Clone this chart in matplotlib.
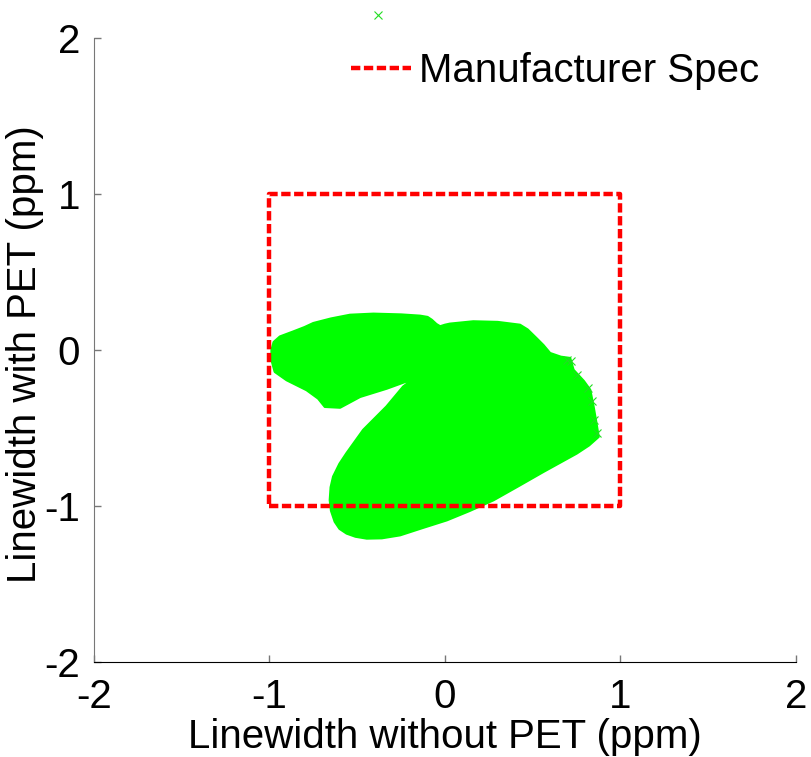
"""Linewidth with and without PET against the manufacturer spec box."""
import matplotlib
matplotlib.use("Agg")
import matplotlib.pyplot as plt

plt.rcParams["font.family"] = ["Liberation Sans", "DejaVu Sans"]
plt.rcParams["axes.unicode_minus"] = False

# Outline of the dense cloud of measured points (ppm)
cloud_x = [-0.987, -0.975, -0.94, -0.864, -0.8, -0.75, -0.65, -0.541, -0.408,
           -0.25, -0.142, -0.1, -0.076, -0.05, -0.028, 0.0, 0.028, 0.161, 0.3,
           0.427, 0.47, 0.52, 0.56, 0.598, 0.66, 0.712, 0.731, 0.79, 0.826,
           0.845, 0.86, 0.874, 0.82, 0.75, 0.56, 0.42, 0.275, 0.14, 0.01,
           -0.13, -0.256, -0.36, -0.446, -0.51, -0.56, -0.6, -0.627, -0.648,
           -0.655, -0.65, -0.636, -0.6, -0.56, -0.465, -0.332, -0.237, -0.133,
           -0.2, -0.332, -0.484, -0.598, -0.684, -0.722, -0.788, -0.902,
           -0.969, -0.987]
cloud_y = [0.0, 0.05, 0.085, 0.117, 0.145, 0.171, 0.2, 0.224, 0.231,
           0.226, 0.218, 0.21, 0.192, 0.165, 0.15, 0.16, 0.167, 0.182, 0.178,
           0.16, 0.13, 0.075, 0.03, -0.021, -0.045, -0.053, -0.128, -0.2, -0.256,
           -0.363, -0.46, -0.556, -0.61, -0.662, -0.78, -0.87, -0.962, -1.03, -1.09,
           -1.14, -1.186, -1.205, -1.207, -1.195, -1.175, -1.145, -1.1, -1.03,
           -0.962, -0.88, -0.812, -0.73, -0.662, -0.513, -0.363, -0.235, -0.15,
           -0.192, -0.246, -0.299, -0.368, -0.363, -0.31, -0.256, -0.192,
           -0.139, -0.064]

# Isolated points off the main cloud
stray_x = [0.693, 0.72, 0.75, 0.817, 0.84, 0.864, 0.85, -0.38]
stray_y = [-0.064, -0.07, -0.16, -0.246, -0.33, -0.534, -0.45, 2.15]

# Manufacturer spec corners
spec_x = [-1, 1, 1, -1, -1]
spec_y = [-1, -1, 1, 1, -1]

ticks = [-2, -1, 0, 1, 2]

fig = plt.figure(figsize=(8.11, 7.57), dpi=100)
ax = fig.add_axes([0.1159, 0.1255, 0.8656, 0.8243])

ax.fill(cloud_x, cloud_y, color="#00ff00", edgecolor="#00ff00", linewidth=2,
        joinstyle="round")
ax.plot(stray_x, stray_y, "x", color="#22dd22", markersize=6, mew=0.8,
        clip_on=False)
ax.plot(spec_x, spec_y, color="red", linewidth=3.2, dashes=(2.1, 0.8),
        label="Manufacturer Spec")

ax.set_xlim(-2, 2)
ax.set_ylim(-2, 2)
ax.set_xticks(ticks)
ax.set_yticks(ticks)
ax.tick_params(direction="in", length=5, width=1, colors="#777777",
               labelcolor="black", labelsize=29)
ax.tick_params(axis="x", pad=11.5)
ax.tick_params(axis="y", pad=10)
for side in ["top", "right"]:
    ax.spines[side].set_visible(False)
ax.spines["left"].set_color("#777777")
ax.spines["bottom"].set_color("black")

ax.set_xlabel("Linewidth without PET (ppm)", fontsize=29)
ax.set_ylabel("Linewidth with PET (ppm)", fontsize=29)
ax.xaxis.set_label_coords(0.5, -0.0897)
ax.yaxis.set_label_coords(-0.071, 0.4936)

ax.legend(loc="upper right", frameon=False, fontsize=29, handlelength=1.5,
          handletextpad=0.2, borderaxespad=0.0, bbox_to_anchor=(0.971, 1.004))

fig.savefig("out.png", dpi=100)
